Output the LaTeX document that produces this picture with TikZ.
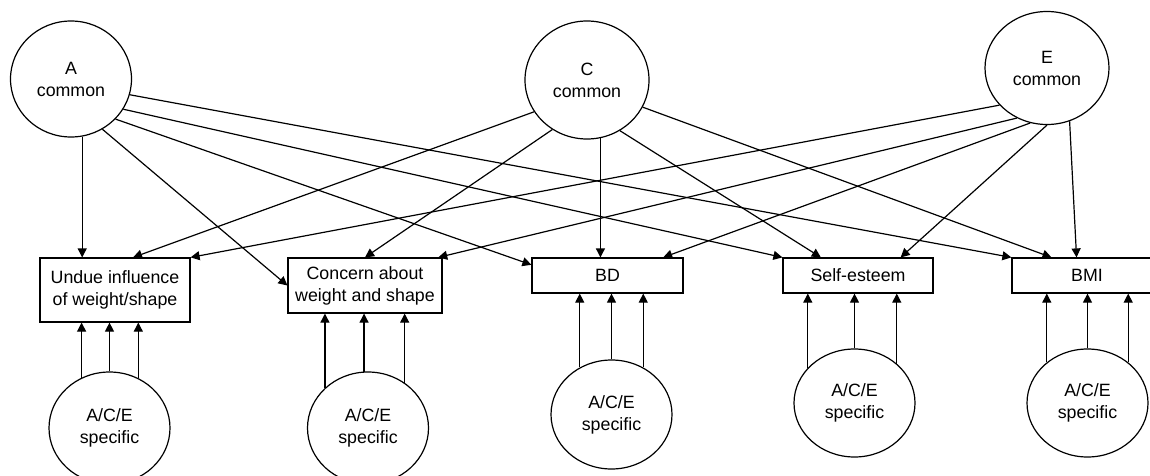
\documentclass[tikz,border=0pt]{standalone}
\usepackage{fontspec}
\setmainfont{Liberation Sans}
\usetikzlibrary{shapes.geometric,arrows.meta}
\begin{document}
\begin{tikzpicture}[x=0.5pt, y=-0.5pt, line width=0.6pt,
    >={Triangle[length=4.5pt, width=4.5pt]},
    every node/.style = {font=\fontsize{8.9}{11}\selectfont, align=center, inner sep=0pt},
    latent/.style = {draw, ellipse, minimum width=60.5pt, minimum height=58pt},
    spec/.style = {draw, ellipse, minimum width=60.5pt, minimum height=54pt},
    trait/.style = {draw, rectangle, minimum width=75.5pt, minimum height=17.5pt}]
    \useasboundingbox (0,0) rectangle (1150,476);
    % common factors
    \node[latent] (ac) at (71,79) {A\\common};
    \node[latent, minimum width=62pt, minimum height=59pt] (cc) at (587,80) {C\\common};
    \node[latent, minimum width=62pt, minimum height=56.5pt] (ec) at (1047,68) {E\\common};
    % measured traits
    \node[trait, minimum width=75pt, minimum height=32pt] (undue) at (115,290) {Undue influence\\of weight/shape};
    \node[trait, minimum width=77pt, minimum height=27.5pt] (concern) at (365,285.5) {Concern about\\weight and shape};
    \node[trait] (bd) at (607.5,275.5) {BD};
    \node[trait, minimum width=75pt] (se) at (858,275.5) {Self-esteem};
    \node[trait, minimum width=75pt] (bmi) at (1087,275.5) {BMI};
    % specific factors
    \node[spec, minimum height=56pt] (s1) at (109.5,428) {A/C/E\\specific};
    \node[spec, minimum height=56pt] (s2) at (368,428) {A/C/E\\specific};
    \node[spec, minimum height=54.5pt] (s3) at (611.5,414.5) {A/C/E\\specific};
    \node[spec] (s4) at (854.5,403) {A/C/E\\specific};
    \node[spec] (s5) at (1087.5,403) {A/C/E\\specific};
    % paths from A common
    \draw[->] (ac.281) -- (ac.281 |- undue.north);
    \draw[->] (ac.302) -- (concern.west);
    \draw[->] (ac.318) -- (bd.172);
    \draw[->] (ac.330) -- (se.north west);
    \draw[->] (ac.345) -- (bmi.north west);
    % paths from C common
    \draw[->] (cc.211) -- (undue.61);
    \draw[->] (cc.235) -- (concern.north);
    \draw[->] (cc.283) -- (cc.283 |- bd.north);
    \draw[->] (cc.303) -- (se.154);
    \draw[->] (cc.334) -- (bmi.153);
    % paths from E common
    \draw[->] (ec.218) -- (undue.north east);
    \draw[->] (ec.239) -- (concern.21);
    \draw[->] (ec.253) -- (bd.18);
    \draw[->] (ec.south) -- (se.23);
    \draw[->] (ec.293) -- (bmi.120);
    % specific paths
    \draw[->] (s1.119) -- (s1.119 |- undue.south);
    \draw[->] (s1.north) -- (s1.north |- undue.south);
    \draw[->] (s1.60) -- (s1.60 |- undue.south);
    \draw[->] (s2.137) -- (s2.137 |- concern.south);
    \draw[->] (s2.94) -- (s2.94 |- concern.south);
    \draw[->] (s2.51) -- (s2.51 |- concern.south);
    \draw[->] (s3.124) -- (s3.124 |- bd.south);
    \draw[->] (s3.north) -- (s3.north |- bd.south);
    \draw[->] (s3.56) -- (s3.56 |- bd.south);
    \draw[->] (s4.143) -- (s4.143 |- se.south);
    \draw[->] (s4.north) -- (s4.north |- se.south);
    \draw[->] (s4.43) -- (s4.43 |- se.south);
    \draw[->] (s5.135) -- (s5.135 |- bmi.south);
    \draw[->] (s5.north) -- (s5.north |- bmi.south);
    \draw[->] (s5.45) -- (s5.45 |- bmi.south);
\end{tikzpicture}
\end{document}
